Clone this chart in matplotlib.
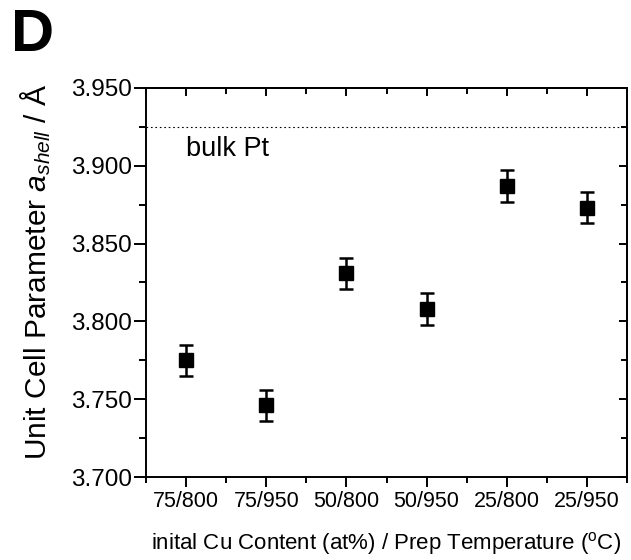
import numpy as np
import matplotlib
matplotlib.use('Agg')
import matplotlib.pyplot as plt
from matplotlib.ticker import MultipleLocator, FixedLocator

plt.rcParams['font.family'] = ['Liberation Sans', 'DejaVu Sans']
plt.rcParams['mathtext.fontset'] = 'custom'
plt.rcParams['mathtext.rm'] = 'Liberation Sans'
plt.rcParams['mathtext.it'] = 'Liberation Sans:italic'

samples = ['75/800', '75/950', '50/800', '50/950', '25/800', '25/950']
a_shell = [3.775, 3.746, 3.831, 3.808, 3.887, 3.873]
a_err = [0.010, 0.010, 0.010, 0.010, 0.010, 0.010]
bulk_pt = 3.925

x = np.arange(1, len(samples) + 1)

fig = plt.figure(figsize=(6.31, 5.6), dpi=100)
ax = fig.add_axes([0.2314, 0.1482, 0.7623, 0.6947])

ax.errorbar(x, a_shell, yerr=a_err, fmt='s', color='black', ms=10,
            elinewidth=1.8, capsize=5, capthick=1.8)
ax.axhline(bulk_pt, color='black', lw=0.8, ls=(0, (1.5, 2.5)))
ax.text(1.0, 3.911, 'bulk Pt', fontsize=19.5, ha='left', va='center')

ax.set_xlim(0.5, 6.5)
ax.set_ylim(3.700, 3.950)
ax.set_xticks(x)
ax.set_xticklabels(samples, fontsize=15.5)
ax.xaxis.set_minor_locator(FixedLocator(np.arange(0.5, 7.0, 1.0)))
ax.yaxis.set_major_locator(MultipleLocator(0.05))
ax.yaxis.set_minor_locator(MultipleLocator(0.025))
ax.set_yticklabels([f'{v:.3f}' for v in ax.get_yticks()], fontsize=17.5)
ax.set_ylim(3.700, 3.950)

ax.tick_params(axis='y', which='major', direction='out', length=9, width=1.4, pad=1)
ax.tick_params(axis='y', which='minor', direction='out', length=5, width=1.4)
ax.tick_params(axis='x', which='major', direction='out', length=7, width=1.4, pad=3)
ax.tick_params(axis='x', which='minor', direction='out', length=4.5, width=1.4)
for s in ax.spines.values():
    s.set_linewidth(1.4)

# inward ticks on top and right
top = ax.secondary_xaxis('top')
top.set_xticks(x)
top.xaxis.set_minor_locator(FixedLocator(np.arange(0.5, 7.0, 1.0)))
top.tick_params(which='major', direction='in', length=6, width=1.4, labeltop=False)
top.tick_params(which='minor', direction='in', length=4, width=1.4)
top.spines['top'].set_linewidth(1.4)
right = ax.secondary_yaxis('right')
right.yaxis.set_major_locator(MultipleLocator(0.05))
right.yaxis.set_minor_locator(MultipleLocator(0.025))
right.tick_params(which='major', direction='in', length=6, width=1.4, labelright=False)
right.tick_params(which='minor', direction='in', length=4, width=1.4)
right.spines['right'].set_linewidth(1.4)

ax.set_ylabel('Unit Cell Parameter $a_{shell}$ / Å', fontsize=21.5)
ax.yaxis.set_label_coords(-0.193, 0.527)
ax.set_xlabel('inital Cu Content (at%) / Prep Temperature ($^{\\mathrm{o}}$C)',
              fontsize=16, labelpad=13)

fig.text(0.018, 0.985, 'D', fontsize=43, fontweight='bold', ha='left', va='top')

fig.savefig('out.png', dpi=100)
